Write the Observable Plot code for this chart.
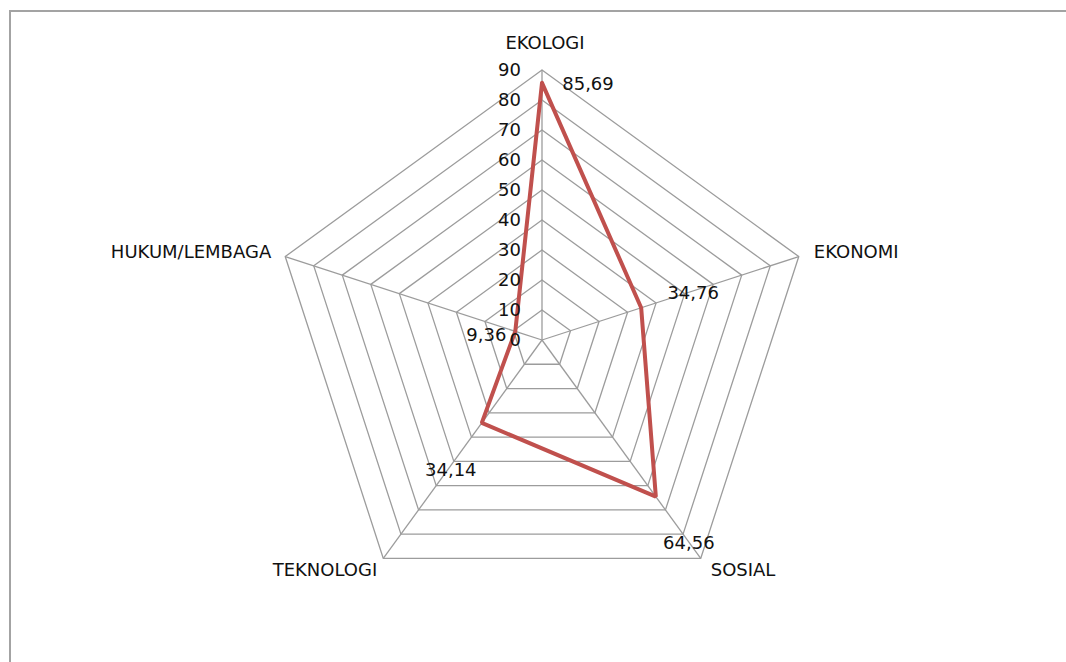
<!DOCTYPE html>
<html><head><meta charset="utf-8">
<script src="https://cdn.jsdelivr.net/npm/d3@7"></script>
<script src="https://cdn.jsdelivr.net/npm/@observablehq/plot@0.6"></script>
<style>
html,body{margin:0;padding:0;background:#fff;overflow:hidden;}
#wrap{position:relative;width:1066px;height:662px;}
#frame{position:absolute;left:9px;top:10px;width:2000px;height:2000px;border:2px solid #a3a3a3;box-sizing:border-box;pointer-events:none;}
#chart{position:absolute;left:0;top:0;}
</style></head>
<body><div id="wrap"><div id="chart"></div><div id="frame"></div></div>
<script>
// ---- data ----
const categories = ["EKOLOGI", "EKONOMI", "SOSIAL", "TEKNOLOGI", "HUKUM/LEMBAGA"];
const values = [85.69, 34.76, 64.56, 34.14, 9.36];
const valueLabels = ["85,69", "34,76", "64,56", "34,14", "9,36"];
const ticks = [0, 10, 20, 30, 40, 50, 60, 70, 80, 90];

// ---- layout / style (not data) ----
const catOffsets = [
  {dx: 3, dy: -27, anchor: "middle"},
  {dx: 15, dy: -4, anchor: "start"},
  {dx: 10, dy: 12, anchor: "start"},
  {dx: -6, dy: 12, anchor: "end"},
  {dx: -14, dy: -4, anchor: "end"}
];
const valOffsets = [
  {dx: 46, dy: 1}, {dx: 52, dy: -15}, {dx: 33, dy: 47}, {dx: -31, dy: 47}, {dx: -29, dy: 4}
];

const n = categories.length;
const ang = i => (i * 2 * Math.PI) / n;
const px = (r, i) => r * Math.sin(ang(i));
const py = (r, i) => r * Math.cos(ang(i));
const rMax = d3.max(ticks);

// grid rings
const rings = [];
ticks.filter(t => t > 0).forEach(t => {
  for (let i = 0; i <= n; i++) rings.push({ring: t, x: px(t, i % n), y: py(t, i % n)});
});
// spokes
const spokes = categories.map((c, i) => ({x1: 0, y1: 0, x2: px(rMax, i), y2: py(rMax, i)}));
// series polygon
const series = [];
for (let i = 0; i <= n; i++) series.push({x: px(values[i % n], i % n), y: py(values[i % n], i % n)});
const cats = categories.map((c, i) => ({c, x: px(rMax, i), y: py(rMax, i), ...catOffsets[i]}));
const vals = values.map((v, i) => ({t: valueLabels[i], x: px(v, i), y: py(v, i), ...valOffsets[i]}));
const tickData = ticks.map(t => ({t: String(t), x: 0, y: t}));

const cx = 541.5, cy = 339.5, k = 3; // px per unit
const font = "DejaVu Sans";
const fs = 18;

const marks = [
  Plot.line(rings, {x: "x", y: "y", z: "ring", stroke: "#9c9c9c", strokeWidth: 1.3}),
  Plot.link(spokes, {x1: "x1", y1: "y1", x2: "x2", y2: "y2", stroke: "#9c9c9c", strokeWidth: 1.3}),
  Plot.line(series, {x: "x", y: "y", stroke: "#c0504d", strokeWidth: 4, strokeLinejoin: "miter"}),
  Plot.text(tickData, {x: "x", y: "y", text: "t", dx: -21, textAnchor: "end", fill: "#111", fontSize: fs, fontFamily: font})
];
// per-label offsets (Plot dx/dy are constants, so one mark per label)
vals.forEach(d => marks.push(Plot.text([d], {x: "x", y: "y", text: "t", dx: d.dx, dy: d.dy, textAnchor: "middle", fill: "#111", fontSize: fs, fontFamily: font})));
cats.forEach(d => marks.push(Plot.text([d], {x: "x", y: "y", text: "c", dx: d.dx, dy: d.dy, textAnchor: d.anchor, fill: "#111", fontSize: fs, fontFamily: font})));

const chart = Plot.plot({
  width: 1066, height: 662,
  marginTop: 0, marginBottom: 0, marginLeft: 0, marginRight: 0,
  x: {domain: [-cx / k, (1066 - cx) / k], range: [0, 1066], axis: null},
  y: {domain: [-(662 - cy) / k, cy / k], range: [662, 0], axis: null},
  style: {background: "transparent", fontFamily: font},
  marks
});
document.getElementById("chart").appendChild(chart);
</script></body></html>
